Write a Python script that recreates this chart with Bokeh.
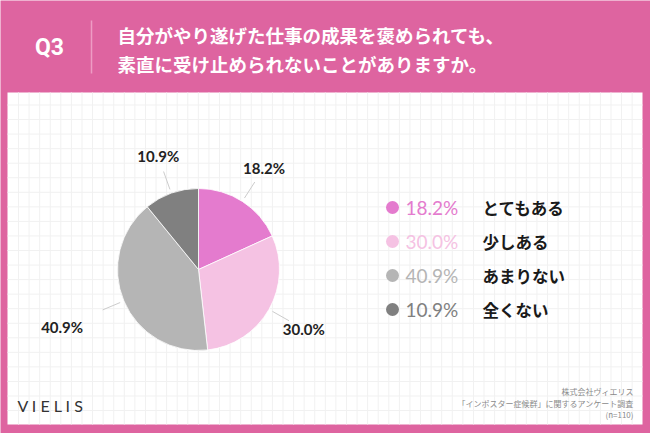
import numpy as np
from bokeh.plotting import figure
from bokeh.models import Range1d
from bokeh.core.properties import value
from bokeh.embed import file_html
from bokeh.resources import INLINE

# ---- data ----
categories = ["とてもある", "少しある", "あまりない", "全くない"]
percents = [18.2, 30.0, 40.9, 10.9]
pct_labels = ["18.2%", "30.0%", "40.9%", "10.9%"]
colors = ["#E47BCE", "#F5C2E3", "#B5B5B5", "#808080"]
question = "Q3"
title_lines = ["自分がやり遂げた仕事の成果を褒められても、", "素直に受け止められないことがありますか。"]
source_lines = ["株式会社ヴィエリス", "「インポスター症候群」に関するアンケート調査", "(n=110)"]

W, H = 650, 433
PINK = "#DE64A0"
JP = value("Noto Sans CJK JP")
NUM = value("Lato")


def Y(y):
    return H - y


p = figure(width=W, height=H, output_backend="svg", toolbar_location=None,
           x_range=Range1d(0, W), y_range=Range1d(0, H), min_border=0)
p.axis.visible = False
p.grid.visible = False
p.outline_line_color = None
p.background_fill_color = PINK
p.border_fill_color = PINK

# white panel
px0, px1, py0, py1 = 7, 642, 92, 424
p.quad(left=[px0], right=[px1], bottom=[Y(py1)], top=[Y(py0)], fill_color="white", line_color=None)

# grid
gx = np.arange(18, px1, 10.58)
gy = np.arange(104.5, py1, 14.55)
p.segment(x0=gx, x1=gx, y0=[Y(py0)] * len(gx), y1=[Y(py1)] * len(gx), line_color="#F1F1F1", line_width=1)
p.segment(x0=[px0] * len(gy), x1=[px1] * len(gy), y0=[Y(v) for v in gy], y1=[Y(v) for v in gy],
          line_color="#F1F1F1", line_width=1)

# header
p.text(x=[49], y=[Y(47)], text=[question], text_color="white", text_font=value("Roboto"),
       text_font_size="23px", text_font_style="bold", text_align="center", text_baseline="middle")
p.segment(x0=[91], x1=[91], y0=[Y(20)], y1=[Y(73)], line_color="#EE9CC4", line_width=1.5)
p.text(x=[117, 117], y=[Y(34), Y(63)], text=title_lines, text_color="white", text_font=JP,
       text_font_size="18.5px", text_font_style="bold", text_baseline="middle")

# pie
cx, cy, r = 198, 269, 81
vals = np.array(percents)
frac = vals / vals.sum()
ends = np.cumsum(frac)
starts = ends - frac
start_ang = np.pi / 2 - 2 * np.pi * starts
end_ang = np.pi / 2 - 2 * np.pi * ends
p.wedge(x=cx, y=Y(cy), radius=r, start_angle=start_ang, end_angle=end_ang, direction="clock",
        fill_color=colors, line_color="white", line_width=0.8)

mid = 2 * np.pi * (starts + frac / 2)  # clockwise from top
dirx, diry = np.sin(mid), np.cos(mid)
line_r0, line_r1 = 85, 104
p.segment(x0=cx + line_r0 * dirx, y0=Y(cy) + line_r0 * diry, x1=cx + line_r1 * dirx, y1=Y(cy) + line_r1 * diry,
          line_color="#CCCCCC", line_width=1)
label_r = np.array([121, 121, 148, 120])
p.text(x=cx + label_r * dirx, y=Y(cy) + label_r * diry, text=pct_labels, text_color="#222222", text_font=NUM,
       text_font_size="15px", text_font_style="bold", text_align="center", text_baseline="middle")

# legend
rows = np.array([207, 241, 275, 309])
p.scatter(x=[392] * 4, y=[Y(v) for v in rows], size=13, marker="circle", fill_color=colors, line_color=None)
p.text(x=[405] * 4, y=[Y(v) for v in rows], text=pct_labels, text_color=colors, text_font=NUM,
       text_font_size="19px", text_baseline="middle")
p.text(x=[482] * 4, y=[Y(v) for v in rows], text=categories, text_color="#1A1A1A", text_font=JP,
       text_font_size="16.5px", text_font_style="bold", text_baseline="middle")

# footer
p.text(x=[17], y=[Y(405)], text=["V I E L I S"], text_color="#333333", text_font=NUM,
       text_font_size="16px", text_baseline="middle")
p.text(x=[633] * 3, y=[Y(v) for v in [391, 403, 414]], text=source_lines, text_color="#8A8A8A", text_font=JP,
       text_font_size="8px", text_align="right", text_baseline="middle")

open("out.html", "w").write(file_html(p, INLINE))
